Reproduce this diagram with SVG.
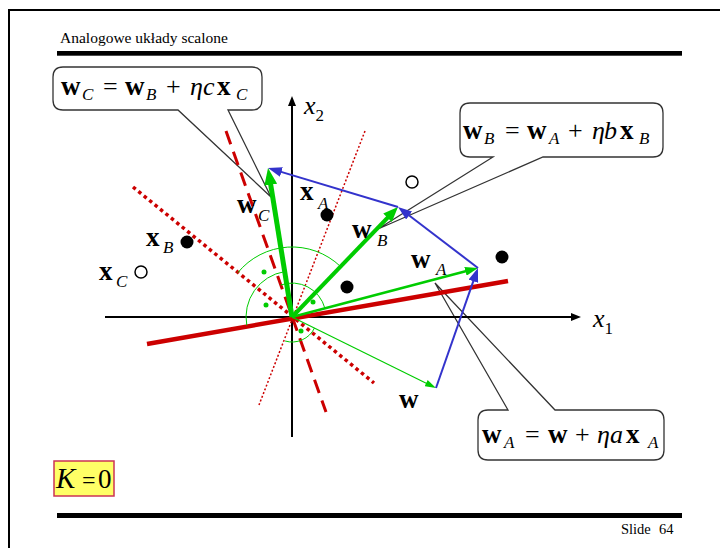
<svg xmlns="http://www.w3.org/2000/svg" width="720" height="548" viewBox="0 0 720 548">
<style>
text{font-family:"Liberation Serif","Times New Roman",serif;fill:#000}
.b{font-weight:bold;font-size:27px}
.i{font-style:italic;font-size:26px}
.n{font-size:26px}
.s{font-style:italic;font-size:17px}
.call{fill:#fff;stroke:#333;stroke-width:1.3}
.g{stroke:#00CC00;fill:none}
.bl{stroke:#3333CC;stroke-width:2;fill:none}
.r{stroke:#CC0000;fill:none}
.arc{stroke:#00CC00;stroke-width:1;fill:none}
.ax{stroke:#000;stroke-width:2;fill:none}
</style>
<defs>
<marker id="gBig" viewBox="0 0 17 13" refX="9" refY="6.5" markerWidth="17" markerHeight="13" markerUnits="userSpaceOnUse" orient="auto"><path d="M0,0 L17,6.5 L0,13 Z" fill="#00CC00"/></marker>
<marker id="gMid" viewBox="0 0 15 12" refX="8" refY="6" markerWidth="15" markerHeight="12" markerUnits="userSpaceOnUse" orient="auto"><path d="M0,0 L15,6 L0,12 Z" fill="#00CC00"/></marker>
<marker id="gA" viewBox="0 0 13 9" refX="8" refY="4.5" markerWidth="13" markerHeight="9" markerUnits="userSpaceOnUse" orient="auto"><path d="M0,0 L13,4.5 L0,9 Z" fill="#00CC00"/></marker>
<marker id="gS" viewBox="0 0 11 7" refX="8" refY="3.5" markerWidth="11" markerHeight="7" markerUnits="userSpaceOnUse" orient="auto"><path d="M0,0 L11,3.5 L0,7 Z" fill="#00CC00"/></marker>
<marker id="bA" viewBox="0 0 14 10" refX="9" refY="5" markerWidth="14" markerHeight="10" markerUnits="userSpaceOnUse" orient="auto"><path d="M0,0 L14,5 L0,10 Z" fill="#3333CC"/></marker>
<marker id="kA" viewBox="0 0 10 8" refX="7" refY="4" markerWidth="10" markerHeight="8" markerUnits="userSpaceOnUse" orient="auto"><path d="M0,0 L10,4 L0,8 Z" fill="#000"/></marker>
</defs>
<rect width="720" height="548" fill="#fff"/>
<g id="frame">
<path d="M9,548 V10 H720" fill="none" stroke="#000" stroke-width="2"/>
<rect x="57" y="51" width="625" height="4.7" fill="#000"/>
<rect x="57" y="513" width="625" height="5" fill="#000"/>
<text x="60" y="43" style="font-size:15.5px">Analogowe układy scalone</text>
<text y="534" style="font-size:14.5px"><tspan x="621">Slide</tspan><tspan x="659">64</tspan></text>
</g>
<g id="callout-wC">
<path class="call" d="M63,67 H252 Q262,67 262,77 V100 Q262,110 252,110 H228 L271,197 L178,110 H63 Q53,110 53,100 V77 Q53,67 63,67 Z"/>
<text y="95"><tspan class="b" x="61">w</tspan><tspan class="s" x="82" y="100">C</tspan><tspan class="n" x="103" y="95">=</tspan><tspan class="b" x="125">w</tspan><tspan class="s" x="146" y="100">B</tspan><tspan class="n" x="166" y="95">+</tspan><tspan class="i" x="190">η</tspan><tspan class="i" x="203">c</tspan><tspan class="b" x="217">x</tspan><tspan class="s" x="236" y="100">C</tspan></text>
</g>
<g id="callout-wB">
<path class="call" d="M470,103 H653 Q663,103 663,113 V147 Q663,157 653,157 H543 L378,229 L493,157 H470 Q460,157 460,147 V113 Q460,103 470,103 Z"/>
<text y="139"><tspan class="b" x="463">w</tspan><tspan class="s" x="484" y="144">B</tspan><tspan class="n" x="505" y="139">=</tspan><tspan class="b" x="527">w</tspan><tspan class="s" x="549" y="144">A</tspan><tspan class="n" x="568" y="139">+</tspan><tspan class="i" x="592">η</tspan><tspan class="i" x="604">b</tspan><tspan class="b" x="620">x</tspan><tspan class="s" x="639" y="144">B</tspan></text>
</g>
<g id="callout-wA">
<path class="call" d="M488,410 H508 L435,283 L555,410 H654 Q664,410 664,420 V450 Q664,460 654,460 H488 Q478,460 478,450 V420 Q478,410 488,410 Z"/>
<text y="443"><tspan class="b" x="482">w</tspan><tspan class="s" x="504" y="448">A</tspan><tspan class="n" x="525" y="443">=</tspan><tspan class="b" x="548">w</tspan><tspan class="n" x="575">+</tspan><tspan class="i" x="597">η</tspan><tspan class="i" x="610">a</tspan><tspan class="b" x="626">x</tspan><tspan class="s" x="648" y="448">A</tspan></text>
</g>
<g id="k-box">
<rect x="54" y="461" width="60" height="35" fill="#FFFF66" stroke="#CC3355" stroke-width="1.5"/>
<text y="488"><tspan x="56" style="font-style:italic;font-size:29px">K</tspan><tspan x="82" style="font-size:24px">=</tspan><tspan x="98" style="font-size:27px">0</tspan></text>
</g>
<g id="axes">
<line class="ax" x1="105" y1="317" x2="578" y2="317" marker-end="url(#kA)"/>
<line class="ax" x1="292" y1="437" x2="292" y2="99" marker-end="url(#kA)"/>
<text x="593" y="327" class="i">x<tspan class="s" style="font-style:normal" y="334">1</tspan></text>
<text x="304" y="114" class="i">x<tspan class="s" style="font-style:normal" y="121">2</tspan></text>
</g>
<g id="boundaries">
<line class="r" x1="365" y1="131" x2="259" y2="405" stroke-width="1.5" stroke-dasharray="2,2"/>
<line class="r" x1="133" y1="187" x2="374" y2="383" stroke-width="3.5" stroke-dasharray="3.5,3.5"/>
<line class="r" x1="226" y1="131" x2="326" y2="412" stroke-width="3" stroke-dasharray="14,8"/>
<line class="r" x1="147" y1="344" x2="508" y2="281" stroke-width="4.5"/>
</g>
<g id="angles">
<path class="arc" d="M340.4,266.4 A70,70 0 0 0 237.8,272.7"/>
<path class="arc" d="M284.6,271.6 A46,46 0 0 0 246.8,325.4"/>
<path class="arc" d="M324.9,308.3 A34,34 0 0 0 280.7,285"/>
<path class="arc" d="M285.1,341 A25,25 0 0 0 314.5,328"/>
<g fill="#00CC00">
<circle cx="264" cy="272" r="2.5"/>
<circle cx="266" cy="305" r="2.5"/>
<circle cx="313" cy="302" r="2.5"/>
<circle cx="301" cy="331" r="2.5"/>
</g>
</g>
<g id="connectors">
<line class="g" x1="292" y1="317" x2="433.3" y2="386.7" stroke-width="1.2" marker-end="url(#gS)"/>
<line class="g" x1="292" y1="317" x2="473.2" y2="269.3" stroke-width="2.5" marker-end="url(#gA)"/>
<line class="g" x1="292" y1="317" x2="393.1" y2="212" stroke-width="4" marker-end="url(#gMid)"/>
<line class="g" x1="292" y1="317" x2="269.3" y2="175.9" stroke-width="5" marker-end="url(#gBig)"/>
<line class="bl" x1="436" y1="388" x2="476.3" y2="272.7" marker-end="url(#bA)"/>
<line class="bl" x1="478" y1="268" x2="402" y2="210" marker-end="url(#bA)"/>
<line class="bl" x1="398" y1="207" x2="272.8" y2="169.4" marker-end="url(#bA)"/>
</g>
<g id="points">
<circle cx="327" cy="215" r="6.5" fill="#000"/>
<circle cx="187" cy="242" r="6.5" fill="#000"/>
<circle cx="347" cy="287" r="6.5" fill="#000"/>
<circle cx="502" cy="257" r="6.5" fill="#000"/>
<circle cx="412" cy="182" r="6" fill="#fff" stroke="#000" stroke-width="1.5"/>
<circle cx="141" cy="272" r="6" fill="#fff" stroke="#000" stroke-width="1.5"/>
</g>
<g id="labels">
<text y="200"><tspan class="b" x="300">x</tspan><tspan class="s" x="318" y="209">A</tspan></text>
<text y="213"><tspan class="b" x="237">w</tspan><tspan class="s" x="258" y="221">C</tspan></text>
<text y="246"><tspan class="b" x="146">x</tspan><tspan class="s" x="163" y="253">B</tspan></text>
<text y="280"><tspan class="b" x="99">x</tspan><tspan class="s" x="116" y="287">C</tspan></text>
<text y="238"><tspan class="b" x="352">w</tspan><tspan class="s" x="377" y="246">B</tspan></text>
<text y="268"><tspan class="b" x="411">w</tspan><tspan class="s" x="436" y="275">A</tspan></text>
<text y="408"><tspan class="b" x="399">w</tspan></text>
</g>
</svg>
